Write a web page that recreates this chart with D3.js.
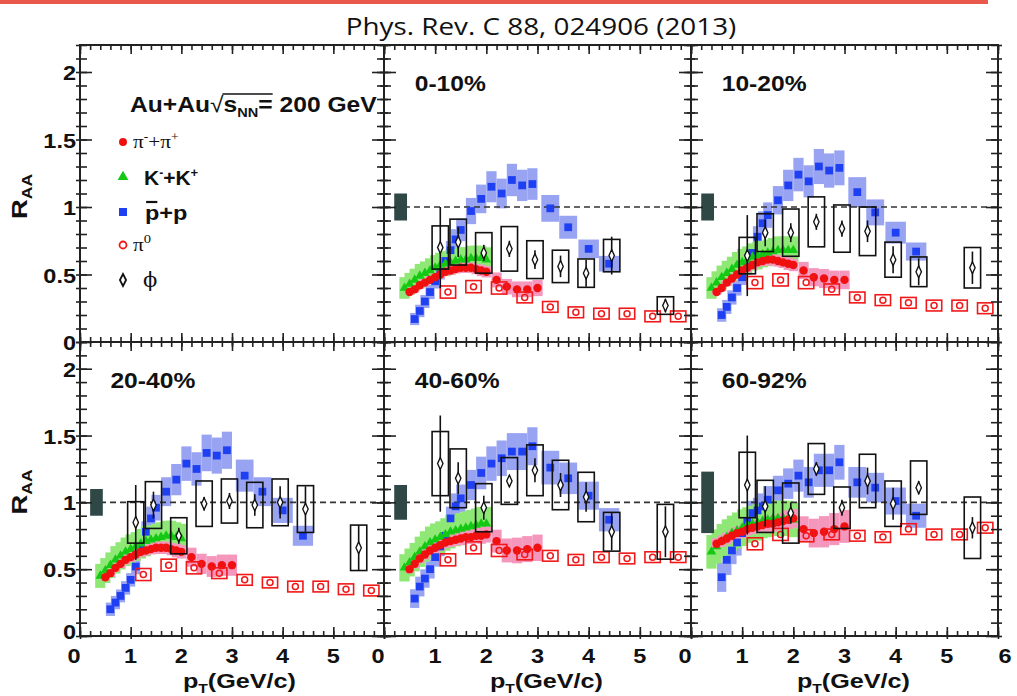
<!DOCTYPE html>
<meta charset="utf-8">
<style>
body { margin: 0; background: #fff; }
text { font-family: "Liberation Sans", Arial, sans-serif; font-weight: bold; fill: #111; }
</style>
<svg width="1017" height="696"></svg>
<script src="https://d3js.org/d3.v7.min.js"></script>
<script>

var centralities = ["0-10%", "10-20%", "20-40%", "40-60%", "60-92%"];
var xTicks = [0, 1, 2, 3, 4, 5, 6];
var yTicks = [0, 0.5, 1, 1.5, 2];

// pi- + pi+ (PHENIX), one row per centrality
var piPt = [0.5, 0.6, 0.7, 0.8, 0.9, 1.0, 1.1, 1.2, 1.3, 1.4, 1.5, 1.6, 1.7, 1.8, 1.9, 2.0, 2.2, 2.4, 2.6, 2.8, 3.0];
var piRaa = [
  [0.37, 0.39, 0.42, 0.44, 0.46, 0.48, 0.50, 0.52, 0.53, 0.54, 0.55, 0.55, 0.55, 0.54, 0.53, 0.52, 0.46, 0.41, 0.39, 0.39, 0.40],
  [0.37, 0.40, 0.44, 0.47, 0.50, 0.53, 0.55, 0.57, 0.59, 0.60, 0.61, 0.61, 0.60, 0.59, 0.58, 0.57, 0.53, 0.48, 0.47, 0.46, 0.46],
  [0.44, 0.47, 0.51, 0.54, 0.57, 0.59, 0.61, 0.63, 0.64, 0.65, 0.66, 0.66, 0.66, 0.65, 0.64, 0.63, 0.59, 0.54, 0.52, 0.53, 0.53],
  [0.50, 0.54, 0.58, 0.61, 0.64, 0.66, 0.68, 0.70, 0.71, 0.72, 0.73, 0.74, 0.74, 0.75, 0.75, 0.76, 0.71, 0.64, 0.64, 0.65, 0.66],
  [0.69, 0.71, 0.73, 0.75, 0.77, 0.78, 0.80, 0.81, 0.82, 0.83, 0.84, 0.84, 0.85, 0.86, 0.87, 0.88, 0.80, 0.77, 0.78, 0.80, 0.82]
];
var piSys = [0.06, 0.06, 0.06, 0.06, 0.06, 0.06, 0.06, 0.06, 0.06, 0.06, 0.07, 0.07, 0.07, 0.07, 0.08, 0.08, 0.12, 0.14, 0.15, 0.15, 0.15];

// K- + K+
var kPt = [0.4, 0.5, 0.6, 0.7, 0.8, 0.9, 1.0, 1.1, 1.2, 1.3, 1.4, 1.5, 1.6, 1.7, 1.8, 1.9, 2.0];
var kRaa = [
  [0.40, 0.43, 0.46, 0.49, 0.51, 0.53, 0.55, 0.57, 0.58, 0.59, 0.60, 0.61, 0.61, 0.62, 0.62, 0.62, 0.61],
  [0.40, 0.44, 0.48, 0.51, 0.54, 0.57, 0.59, 0.61, 0.63, 0.64, 0.65, 0.66, 0.67, 0.68, 0.68, 0.68, 0.68],
  [0.45, 0.49, 0.53, 0.57, 0.60, 0.63, 0.65, 0.67, 0.69, 0.71, 0.72, 0.73, 0.74, 0.75, 0.75, 0.74, 0.73],
  [0.51, 0.55, 0.59, 0.63, 0.67, 0.70, 0.72, 0.74, 0.76, 0.78, 0.79, 0.80, 0.81, 0.82, 0.83, 0.84, 0.84],
  [0.63, 0.67, 0.71, 0.74, 0.77, 0.79, 0.81, 0.83, 0.84, 0.85, 0.86, 0.87, 0.88, 0.88, 0.88, 0.88, 0.87]
];
var kSys = [0.2, 0.19, 0.18, 0.18, 0.17, 0.17, 0.17, 0.16, 0.16, 0.16, 0.15, 0.15, 0.15, 0.15, 0.15, 0.15, 0.15];

// pbar + p
var pPt = [0.6, 0.7, 0.8, 0.9, 1.0, 1.1, 1.2, 1.3, 1.4, 1.5, 1.7, 1.9, 2.1, 2.3, 2.5, 2.7, 2.9, 3.25, 3.6, 4.0, 4.4];
var pRaa = [
  [0.17, 0.23, 0.30, 0.37, 0.45, 0.52, 0.60, 0.68, 0.76, 0.83, 0.97, 1.06, 1.15, 1.10, 1.20, 1.16, 1.17, 0.99, 0.85, 0.69, 0.58],
  [0.20, 0.26, 0.33, 0.40, 0.48, 0.56, 0.66, 0.78, 0.88, 0.94, 1.05, 1.16, 1.24, 1.19, 1.30, 1.27, 1.29, 1.11, 0.96, 0.81, 0.67],
  [0.20, 0.25, 0.30, 0.36, 0.42, 0.52, 0.66, 0.78, 0.88, 0.96, 1.08, 1.17, 1.29, 1.25, 1.37, 1.35, 1.39, 1.20, 1.08, 0.94, 0.75],
  [0.28, 0.37, 0.43, 0.50, 0.59, 0.67, 0.75, 0.88, 0.97, 1.03, 1.13, 1.22, 1.29, 1.33, 1.38, 1.38, 1.42, 1.26, 1.18, 1.05, 0.87],
  [0.44, 0.57, 0.64, 0.70, 0.77, 0.86, 0.92, 0.94, 0.97, 1.02, 1.09, 1.14, 1.20, 1.15, 1.24, 1.24, 1.30, 1.15, 1.11, 1.01, 0.90]
];
var pSys = [0.25, 0.2, 0.16, 0.14, 0.12, 0.11, 0.1, 0.1, 0.1, 0.1, 0.1, 0.1, 0.1, 0.1, 0.1, 0.1, 0.1, 0.1, 0.1, 0.1, 0.1];

// pi0
var pi0Pt = [1.25, 1.75, 2.25, 2.75, 3.25, 3.75, 4.25, 4.75, 5.25, 5.75];
var pi0Raa = [
  [0.37, 0.41, 0.40, 0.33, 0.26, 0.22, 0.21, 0.21, 0.19, 0.19],
  [0.44, 0.46, 0.44, 0.39, 0.33, 0.31, 0.29, 0.27, 0.27, 0.25],
  [0.46, 0.53, 0.51, 0.47, 0.42, 0.40, 0.37, 0.37, 0.35, 0.34],
  [0.57, 0.66, 0.64, 0.61, 0.60, 0.57, 0.59, 0.58, 0.59, 0.59],
  [0.69, 0.76, 0.75, 0.76, 0.75, 0.74, 0.80, 0.76, 0.76, 0.81]
];
var pi0Sys = [0.045, 0.045, 0.045, 0.04, 0.04, 0.04, 0.04, 0.04, 0.04, 0.04];

// phi
var phiPt = [1.1, 1.45, 1.95, 2.45, 2.95, 3.45, 3.95, 4.45, 5.5];
var phiRaa = [
  [0.70, 0.74, 0.66, 0.69, 0.61, 0.56, 0.51, 0.64, 0.27],
  [0.64, 0.81, 0.81, 0.89, 0.84, 0.82, 0.61, 0.52, 0.55],
  [0.85, 0.98, 0.75, 0.99, 1.01, 0.98, 1.00, 0.95, 0.66],
  [1.29, 1.18, 0.96, 1.16, 1.24, 1.13, 1.04, 0.78, 0.78],
  [1.13, 0.97, 0.92, 1.25, 0.96, 1.16, 0.99, 1.11, 0.81]
];
var phiStat = [
  [0.30, 0.11, 0.06, 0.06, 0.07, 0.08, 0.10, 0.14, 0.05],
  [0.30, 0.10, 0.07, 0.06, 0.06, 0.08, 0.10, 0.10, 0.12],
  [0.28, 0.10, 0.06, 0.05, 0.06, 0.08, 0.12, 0.17, 0.17],
  [0.36, 0.12, 0.09, 0.04, 0.09, 0.09, 0.11, 0.14, 0.19],
  [0.37, 0.15, 0.08, 0.05, 0.06, 0.10, 0.12, 0.05, 0.08]
];
var phiSys = [
  [0.16, 0.17, 0.15, 0.165, 0.14, 0.12, 0.105, 0.12, 0.065],
  [0.135, 0.14, 0.175, 0.185, 0.175, 0.18, 0.13, 0.11, 0.15],
  [0.155, 0.175, 0.135, 0.17, 0.165, 0.17, 0.175, 0.175, 0.17],
  [0.24, 0.22, 0.18, 0.175, 0.19, 0.185, 0.185, 0.145, 0.205],
  [0.245, 0.195, 0.225, 0.19, 0.155, 0.2, 0.17, 0.2, 0.23]
];
var normSys = [0.10, 0.10, 0.10, 0.13, 0.23];

var svg = d3.select("svg");
var SX = 1.12;
var cols = [[80, 384], [384, 691], [691, 998]];
var rows = [[342, 45], [636, 342]];

function label(g, x, y, anchor, size, sx) {
  return g.append("text")
      .attr("transform", "translate(" + x + "," + y + ") scale(" + (sx || SX) + ",1)")
      .attr("text-anchor", anchor)
      .style("font-size", size + "px");
}

// header
svg.append("rect").attr("x", 0).attr("y", 0).attr("width", 988).attr("height", 4).attr("fill", "#e8584c");
svg.append("text")
    .attr("transform", "translate(541,35) scale(1.16,1)")
    .attr("text-anchor", "middle")
    .style("font-family", "'Open Sans', sans-serif")
    .style("font-weight", "normal")
    .style("font-size", "24px")
    .text("Phys. Rev. C 88, 024906 (2013)");

function halfWidths(pts, minHw) {
  return pts.map(function(p, i) {
    var gl = i > 0 ? p - pts[i - 1] : Infinity,
        gr = i < pts.length - 1 ? pts[i + 1] - p : Infinity;
    return Math.max(minHw, Math.min(gl, gr) / 2);
  });
}

function band(g, x, y, pts, vals, rel, minHw, minAbs, fill) {
  var hw = halfWidths(pts, minHw);
  g.append("g").selectAll("rect").data(pts).enter().append("rect")
      .attr("x", function(d, i) { return x(d - hw[i]); })
      .attr("width", function(d, i) { return x(d + hw[i]) - x(d - hw[i]); })
      .attr("y", function(d, i) { return y(vals[i] + Math.max(minAbs, vals[i] * rel[i])); })
      .attr("height", function(d, i) { var e = Math.max(minAbs, vals[i] * rel[i]); return y(vals[i] - e) - y(vals[i] + e); })
      .attr("fill", fill);
}

function markers(g, x, y, pts, vals, type, size, fill) {
  g.append("g").selectAll("path").data(pts).enter().append("path")
      .attr("transform", function(d, i) { return "translate(" + x(d) + "," + y(vals[i]) + ")"; })
      .attr("d", d3.symbol().type(type).size(size))
      .attr("fill", fill);
}

function tickSet(g, axisFn, scale, transform, values, len) {
  g.append("g").attr("transform", transform)
      .call(axisFn(scale).tickValues(values).tickSize(len).tickFormat(""))
      .call(function(s) {
        s.select(".domain").remove();
        s.selectAll("line").attr("stroke", "#222").attr("stroke-width", 1.6);
      });
}

var xMinor = d3.range(0, 6.001, 0.2);
var yMinor = d3.range(0, 2.201, 0.1);

for (var pi = 0; pi < 6; pi++) {
  var c = pi % 3, r = Math.floor(pi / 3);
  var x = d3.scaleLinear().domain([0, 6]).range(cols[c]);
  var y = d3.scaleLinear().domain([0, 2.2]).range(rows[r]);
  var g = svg.append("g");
  var ci = pi - 1;

  if (ci >= 0) {
    band(g, x, y, pPt, pRaa[ci], pSys, 0.09, 0.045, "#98a3f2");
    band(g, x, y, kPt, kRaa[ci], kSys, 0.1, 0.05, "#8fe876");
    band(g, x, y, piPt, piRaa[ci], piSys, 0.09, 0.02, "#f597bd");

    g.append("line")
        .attr("x1", x(0)).attr("x2", x(6)).attr("y1", y(1)).attr("y2", y(1))
        .attr("stroke", "#333").attr("stroke-width", 1.6).attr("stroke-dasharray", "6,4");

    markers(g, x, y, pPt, pRaa[ci], d3.symbolSquare, 60, "#1e3ff2");
    markers(g, x, y, kPt, kRaa[ci], d3.symbolTriangle, 40, "#14c814");
    markers(g, x, y, piPt, piRaa[ci], d3.symbolCircle, 55, "#f01010");

    // pi0 boxes + open circles
    var p0 = g.append("g");
    p0.selectAll("rect").data(pi0Pt).enter().append("rect")
        .attr("x", function(d) { return x(d - 0.15); })
        .attr("width", function(d) { return x(d + 0.15) - x(d - 0.15); })
        .attr("y", function(d, i) { return y(pi0Raa[ci][i] + pi0Sys[i]); })
        .attr("height", function(d, i) { return y(pi0Raa[ci][i] - pi0Sys[i]) - y(pi0Raa[ci][i] + pi0Sys[i]); })
        .attr("fill", "none").attr("stroke", "#f01818").attr("stroke-width", 1.6);
    p0.selectAll("circle").data(pi0Pt).enter().append("circle")
        .attr("cx", function(d) { return x(d); })
        .attr("cy", function(d, i) { return y(pi0Raa[ci][i]); })
        .attr("r", 3)
        .attr("fill", "none").attr("stroke", "#f01818").attr("stroke-width", 1.5);

    // phi: syst boxes, stat bars, open diamonds
    var ph = g.append("g");
    ph.selectAll("rect").data(phiPt).enter().append("rect")
        .attr("x", function(d) { return x(d - 0.16); })
        .attr("width", function(d) { return x(d + 0.16) - x(d - 0.16); })
        .attr("y", function(d, i) { return y(phiRaa[ci][i] + phiSys[ci][i]); })
        .attr("height", function(d, i) { return y(phiRaa[ci][i] - phiSys[ci][i]) - y(phiRaa[ci][i] + phiSys[ci][i]); })
        .attr("fill", "none").attr("stroke", "#111").attr("stroke-width", 1.6);
    ph.selectAll("line").data(phiPt).enter().append("line")
        .attr("x1", function(d) { return x(d); }).attr("x2", function(d) { return x(d); })
        .attr("y1", function(d, i) { return y(phiRaa[ci][i] + phiStat[ci][i]); })
        .attr("y2", function(d, i) { return y(phiRaa[ci][i] - phiStat[ci][i]); })
        .attr("stroke", "#111").attr("stroke-width", 1.6);
    ph.selectAll("path").data(phiPt).enter().append("path")
        .attr("transform", function(d, i) { return "translate(" + x(d) + "," + y(phiRaa[ci][i]) + ") scale(0.8,1)"; })
        .attr("d", d3.symbol().type(d3.symbolDiamond).size(40))
        .attr("fill", "#fff").attr("stroke", "#111").attr("stroke-width", 1.6);

    // normalisation box
    g.append("rect")
        .attr("x", x(0.2)).attr("width", x(0.45) - x(0.2))
        .attr("y", y(1 + normSys[ci])).attr("height", y(1 - normSys[ci]) - y(1 + normSys[ci]))
        .attr("fill", "#2f4745");

    label(g, x(0.6), rows[r][1] + 46, "start", 22).text(centralities[ci]);
  }

  // frame and ticks
  var X0 = cols[c][0], X1 = cols[c][1], Y0 = rows[r][0], Y1 = rows[r][1];
  var ax = svg.append("g");
  tickSet(ax, d3.axisBottom, x, "translate(0," + Y0 + ")", xTicks, -9);
  tickSet(ax, d3.axisBottom, x, "translate(0," + Y0 + ")", xMinor, -5);
  tickSet(ax, d3.axisBottom, x, "translate(0," + Y0 + ")", xTicks, 3);
  tickSet(ax, d3.axisTop, x, "translate(0," + Y1 + ")", xTicks, -9);
  tickSet(ax, d3.axisTop, x, "translate(0," + Y1 + ")", xMinor, -5);
  tickSet(ax, d3.axisLeft, y, "translate(" + X0 + ",0)", yTicks, -12);
  tickSet(ax, d3.axisLeft, y, "translate(" + X0 + ",0)", yMinor, -7);
  tickSet(ax, d3.axisLeft, y, "translate(" + X0 + ",0)", yMinor, 4);
  tickSet(ax, d3.axisRight, y, "translate(" + X1 + ",0)", yTicks, -12);
  tickSet(ax, d3.axisRight, y, "translate(" + X1 + ",0)", yMinor, -7);
  tickSet(ax, d3.axisRight, y, "translate(" + X1 + ",0)", yMinor, 4);
  ax.append("rect")
      .attr("x", X0).attr("y", Y1).attr("width", X1 - X0).attr("height", Y0 - Y1)
      .attr("fill", "none").attr("stroke", "#222").attr("stroke-width", 2);

  if (c === 0) {
    yTicks.forEach(function(t) {
      var off = (r === 1 && t === 0) ? 3 : 8;
      label(ax, 76, y(t) + off, "end", 21).text(t);
    });
    var ra = label(ax, 27, 0, "middle", 22, 1)
        .attr("transform", "translate(27," + ((Y0 + Y1) / 2 + 3) + ") rotate(-90) scale(1.25,1)");
    ra.append("tspan").text("R");
    ra.append("tspan").attr("dy", 5).style("font-size", "14px").text("AA");
  }
  if (r === 1) {
    var labs = c === 2 ? xTicks : xTicks.slice(0, 6);
    labs.forEach(function(t) {
      var dx = t === 0 ? -6 : (t === 6 ? 7 : 0);
      label(ax, x(t) + dx, 663, "middle", 21).text(t);
    });
    var pt = label(ax, X1 - 88, 688, "end", 21, 1.2);
    pt.append("tspan").text("p");
    pt.append("tspan").attr("dy", 5).style("font-size", "13px").text("T");
    pt.append("tspan").attr("dy", -5).text("(GeV/c)");
  }
}

// legend panel
var lg = svg.append("g");
var head = lg.append("g").attr("transform", "translate(130,112) scale(" + SX + ",1)");
var ht = head.append("text").style("font-size", "22px");
ht.append("tspan").text("Au+Au");
ht.append("tspan").style("font-weight", "normal").text("\u221A");
ht.append("tspan").text("s");
ht.append("tspan").attr("dy", 5).style("font-size", "13px").text("NN");
ht.append("tspan").attr("dy", -5).text("= 200 GeV");
var hn = ht.node();
var sx0 = hn.getStartPositionOfChar(6).x, sx1 = hn.getEndPositionOfChar(9).x;
head.append("line").attr("x1", sx0 - 1).attr("x2", sx1).attr("y1", -18).attr("y2", -18)
    .attr("stroke", "#111").attr("stroke-width", 1.6);

var legendY = [142, 177, 212, 245, 280];

lg.append("path").attr("transform", "translate(123," + legendY[0] + ")")
    .attr("d", d3.symbol().type(d3.symbolCircle).size(50)).attr("fill", "#f01010");
lg.append("path").attr("transform", "translate(123," + legendY[1] + ")")
    .attr("d", d3.symbol().type(d3.symbolTriangle).size(50)).attr("fill", "#14c814");
lg.append("path").attr("transform", "translate(123," + legendY[2] + ")")
    .attr("d", d3.symbol().type(d3.symbolSquare).size(64)).attr("fill", "#1e3ff2");
lg.append("circle").attr("cx", 123).attr("cy", legendY[3]).attr("r", 3.5)
    .attr("fill", "none").attr("stroke", "#f01818").attr("stroke-width", 1.8);
lg.append("path").attr("transform", "translate(123," + legendY[4] + ") scale(0.9,1)")
    .attr("d", d3.symbol().type(d3.symbolDiamond).size(40))
    .attr("fill", "#fff").attr("stroke", "#111").attr("stroke-width", 2);

var t1 = label(lg, 133, legendY[0] + 6, "start", 19).style("font-family", "'Liberation Serif', serif").style("font-weight", "normal");
t1.append("tspan").text("\u03C0");
t1.append("tspan").attr("dy", -7).style("font-size", "12px").text("-");
t1.append("tspan").attr("dy", 7).text("+\u03C0");
t1.append("tspan").attr("dy", -7).style("font-size", "12px").text("+");

var t2 = label(lg, 144, legendY[1] + 8, "start", 21, 1.0);
t2.append("tspan").text("K");
t2.append("tspan").attr("dy", -8).style("font-size", "12px").text("-");
t2.append("tspan").attr("dy", 8).text("+K");
t2.append("tspan").attr("dy", -8).style("font-size", "13px").text("+");

var t3g = lg.append("g").attr("transform", "translate(145," + (legendY[2] + 8) + ") scale(" + SX + ",1)");
t3g.append("text").style("font-size", "21px").text("p+p");
t3g.append("line").attr("x1", 1).attr("x2", 11).attr("y1", -18).attr("y2", -18)
    .attr("stroke", "#111").attr("stroke-width", 2.2);

var t4 = label(lg, 133, legendY[3] + 6, "start", 19).style("font-family", "'Liberation Serif', serif").style("font-weight", "normal");
t4.append("tspan").text("\u03C0");
t4.append("tspan").attr("dy", -8).style("font-size", "13px").text("0");

label(lg, 143, legendY[4] + 7, "start", 21, 1.0)
    .style("font-family", "'DejaVu Serif', serif").style("font-weight", "normal")
    .text("\u03D5");

</script>
